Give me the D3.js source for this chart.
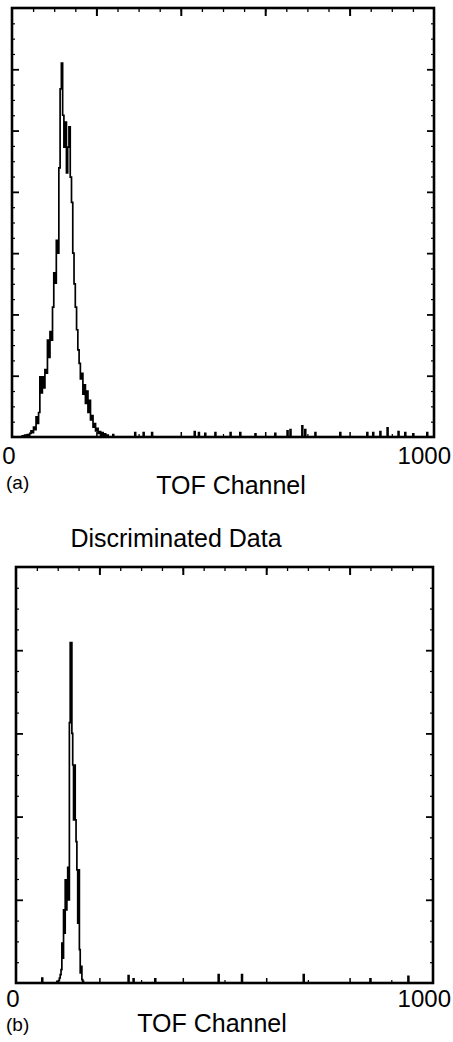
<!DOCTYPE html>
<html><head><meta charset="utf-8">
<script src="https://cdn.jsdelivr.net/npm/d3@7"></script>
<style>
html,body{margin:0;padding:0;background:#fff;}
svg{display:block;}
text{font-family:"Liberation Sans", Arial, Helvetica, sans-serif; fill:#000;}
</style>
</head><body>
<svg id="chart" width="453" height="1042"></svg>
<script>
// ---------- Panel (a): raw TOF histogram ----------
const peakChannelsA = [21,24,27,30,33,36,39,42,45,48,51,54,57,60,63,66,69,72,75,78,81,84,87,90,93,96,99,102,105,108,111,114,117,120,123,126,129,132,135,138,141,144,147,150,153,156,159,162,165,168,171,174,177,180,183,186,189,192,195,198,201,204,207,210,213,216,219,222,225,228];
const peakCountsA   = [0,2,0,3,1,4,2,6,10,7,16,12,33,22,40,98,72,98,80,110,104,158,130,172,158,212,268,251,321,300,439,568,610,525,473,514,431,473,506,424,383,300,250,212,175,142,120,95,104,70,85,55,75,40,60,28,35,16,22,10,14,6,9,3,7,2,5,0,3,0];
const spikeChannelsA = [239,291,311,331,432,442,457,481,517,540,576,623,652,659,687,694,718,777,841,855,872,889,915,931,950,983];
const spikeCountsA   = [4,7,7,7,9,7,6,7,7,7,5,6,10,12,18,12,7,7,7,7,9,15,9,7,5,7];

// ---------- Panel (b): discriminated data ----------
const peakChannelsB = [96,98,100,102,104,106,108,110,112,114,116,118,120,122,124,126,128,130,132,134,136,138,140,142,144,146,148,150,152,154,156,158,160,162];
const peakCountsB   = [0,2,0,3,6,10,16,48,30,88,60,124,88,124,139,100,313,409,409,300,262,196,262,196,170,136,72,136,40,12,20,4,2,0];
const spikeChannelsB = [62,269,281,333,485,541,689,849,940];
const spikeCountsB   = [6,9,5,5,10,10,10,5,8];

// ---------- Axis / text ----------
const xDomain = [0, 1000];
const yDomainA = [0, 700];
const yDomainB = [0, 500];
const xMinorTicks = [50,100,150,200,250,300,350,400,450,500,550,600,650,700,750,800,850,900,950];
const xMajorTicks = [200,400,600,800];
const xBottomMinor = [300,500,700,900];
const yMinorTicksA = [25,50,75,125,150,175,225,250,275,325,350,375,425,450,475,525,550,575,625,650,675];
const yMajorTicksA = [100,200,300,400,500,600];
const yMinorTicksB = [25,50,75,125,150,175,225,250,275,325,350,375,425,450,475];
const yMajorTicksB = [100,200,300,400];
const xEndLabels = ["0", "1000"];
const xAxisTitle = "TOF Channel";
const panelTitleB = "Discriminated Data";
const panelLabels = ["(a)", "(b)"];

const svg = d3.select("#chart");

function buildSeries(pCh, pCt, binW, sCh, sCt, sW) {
  const pts = [[xDomain[0], 0]];
  pCh.forEach((c, i) => pts.push([c, pCt[i]]));
  pts.push([pCh[pCh.length - 1] + binW, 0]);
  sCh.forEach((c, i) => { pts.push([c, sCt[i]]); pts.push([c + sW, 0]); });
  pts.push([xDomain[1], 0]);
  pts.sort((a, b) => a[0] - b[0]);
  return pts;
}

function drawPanel(cfg) {
  const {left, right, top, bottom, yDomain, yMinor, yMajor, series, label, titleY, labelY, endY, labelX, titleX} = cfg;
  const x = d3.scaleLinear().domain(xDomain).range([left, right]);
  const y = d3.scaleLinear().domain(yDomain).range([bottom, top]);
  const g = svg.append("g");

  const tickAxis = (axis, pos, vals, len, w) => {
    const a = g.append("g").attr("transform", pos)
      .call(axis.tickValues(vals).tickSize(-len).tickFormat(""));
    a.select(".domain").remove();
    a.selectAll("line").attr("stroke", "#000").attr("stroke-width", w);
  };
  tickAxis(d3.axisTop(x), `translate(0,${top})`, xMinorTicks, 4, 1.3);
  tickAxis(d3.axisTop(x), `translate(0,${top})`, xMajorTicks, 8, 2);
  tickAxis(d3.axisBottom(x), `translate(0,${bottom})`, xBottomMinor, 3, 1.2);
  tickAxis(d3.axisBottom(x), `translate(0,${bottom})`, xMajorTicks, 5, 1.5);
  tickAxis(d3.axisLeft(y), `translate(${left},0)`, yMinor, 3, 1.2);
  tickAxis(d3.axisLeft(y), `translate(${left},0)`, yMajor, 7, 1.8);
  tickAxis(d3.axisRight(y), `translate(${right},0)`, yMinor, 3, 1.2);
  tickAxis(d3.axisRight(y), `translate(${right},0)`, yMajor, 7, 1.8);

  const line = d3.line().x(d => x(d[0])).y(d => y(d[1])).curve(d3.curveStepAfter);
  g.append("path").datum(series)
    .attr("fill", "none").attr("stroke", "#000").attr("stroke-width", 1.7)
    .attr("d", line);

  g.append("rect").attr("x", left).attr("y", top)
    .attr("width", right - left).attr("height", bottom - top)
    .attr("fill", "none").attr("stroke", "#000").attr("stroke-width", 2.6);

  g.append("text").attr("x", x(xDomain[0]) - 3).attr("y", endY)
    .attr("text-anchor", "middle").attr("font-size", 24).text(xEndLabels[0]);
  g.append("text").attr("x", 451).attr("y", endY)
    .attr("text-anchor", "end").attr("font-size", 24).text(xEndLabels[1]);
  g.append("text").attr("x", labelX).attr("y", labelY)
    .attr("font-size", 19).text(label);
  g.append("text").attr("x", titleX).attr("y", titleY)
    .attr("text-anchor", "middle").attr("font-size", 25).text(xAxisTitle);
}

drawPanel({
  left: 12, right: 434, top: 8, bottom: 437,
  yDomain: yDomainA, yMinor: yMinorTicksA, yMajor: yMajorTicksA,
  series: buildSeries(peakChannelsA, peakCountsA, 3, spikeChannelsA, spikeCountsA, 2),
  label: panelLabels[0], labelX: 6, labelY: 489, endY: 464, titleX: 231, titleY: 494
});

svg.append("text").attr("x", 176).attr("y", 547)
  .attr("text-anchor", "middle").attr("font-size", 25).text(panelTitleB);

drawPanel({
  left: 16, right: 433, top: 567, bottom: 983,
  yDomain: yDomainB, yMinor: yMinorTicksB, yMajor: yMajorTicksB,
  series: buildSeries(peakChannelsB, peakCountsB, 2, spikeChannelsB, spikeCountsB, 2),
  label: panelLabels[1], labelX: 6, labelY: 1031, endY: 1007, titleX: 212, titleY: 1032
});
</script>
</body></html>
